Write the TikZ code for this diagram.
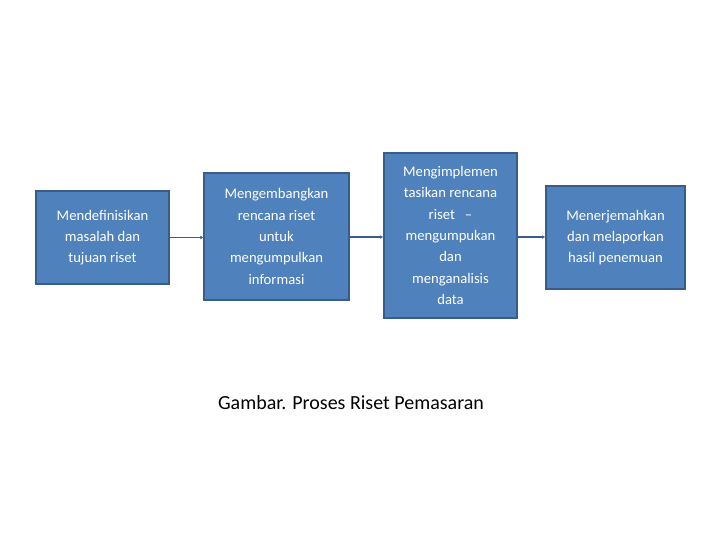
\documentclass[tikz,border=0pt]{standalone}
\usepackage{fontspec}
\setmainfont{Carlito}
\usetikzlibrary{arrows.meta}
\definecolor{fillb}{HTML}{4F81BD}
\definecolor{lineb}{HTML}{385D8A}
\begin{document}
\begin{tikzpicture}[x=0.75pt,y=-0.75pt,
 box/.style={draw=lineb,line width=1.5pt,fill=fillb,text=white,align=center,inner sep=0pt,font=\fontsize{11}{16}\selectfont},
 conn/.style={draw=lineb,line width=1pt,-{Latex[length=2pt,width=3pt]}}]
\useasboundingbox (0,0) rectangle (720,540);
\node[box,minimum width=133*0.75pt,minimum height=93*0.75pt] (a) at (102.5,237.5) {Mendefinisikan\\masalah dan\\tujuan riset};
\node[box,minimum width=145*0.75pt,minimum height=127*0.75pt] (b) at (276.5,236.5) {Mengembangkan\\rencana riset\\untuk\\mengumpulkan\\informasi};
\node[box,minimum width=133*0.75pt,minimum height=165*0.75pt] (c) at (450.5,235.5) {Mengimplemen\\tasikan rencana\\riset \ \ --\\mengumpukan\\dan\\menganalisis\\data};
\node[box,minimum width=139*0.75pt,minimum height=103*0.75pt] (d) at (615.5,237.5) {Menerjemahkan\\dan melaporkan\\hasil penemuan};
\draw[conn] (a.east) -- (a.east -| b.west);
\draw[conn] (b.east |- 0,237) -- (c.west |- 0,237);
\draw[conn] (c.east |- 0,237) -- (d.west |- 0,237);
\node[font=\fontsize{15}{18}\selectfont] (t) at (351,403) {Gambar. Proses Riset Pemasaran};
\end{tikzpicture}
\end{document}
